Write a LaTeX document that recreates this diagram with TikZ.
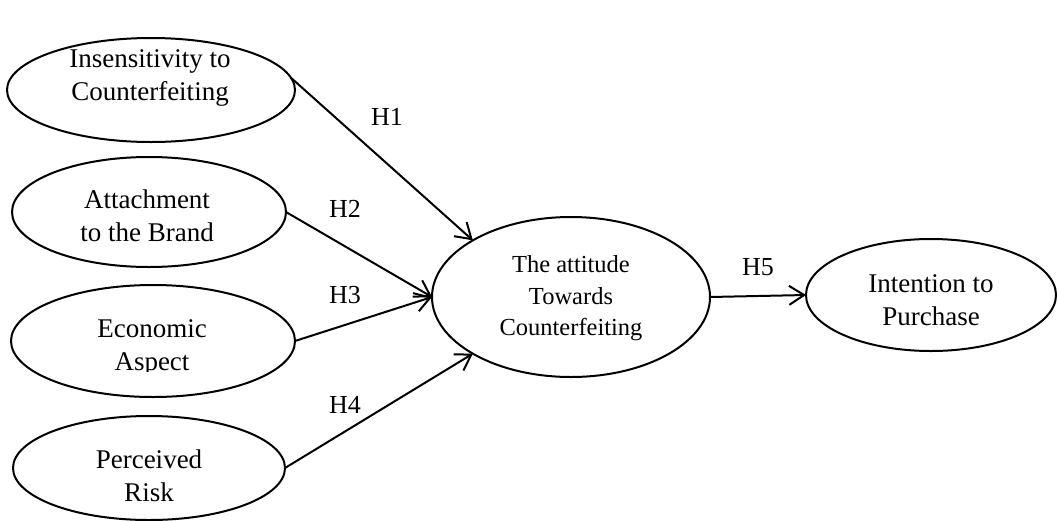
\documentclass[tikz,border=0pt]{standalone}
\usepackage{fontspec}
\setmainfont{Liberation Serif}
\usetikzlibrary{arrows.meta,shapes.geometric}
\begin{document}
\begin{tikzpicture}[x=1pt,y=-1pt,
  oval/.style={draw, ellipse, line width=2pt, inner sep=0pt, outer sep=0pt},
  lbl/.style={align=center, inner sep=0pt, font=\fontsize{27}{33}\selectfont},
  clbl/.style={align=center, inner sep=0pt, font=\fontsize{24.5}{31.5}\selectfont},
  hyp/.style={inner sep=0pt, font=\fontsize{26}{30}\selectfont},
  link/.style={line width=2pt, -{Straight Barb[length=15pt,width=19pt,line width=2pt]}}
]
\useasboundingbox (0,0) rectangle (1058,520);
% ellipses
\node[oval, minimum width=288pt, minimum height=104pt] (e1) at (151,90) {};
\node[oval, minimum width=274pt, minimum height=110pt] (e2) at (149,212) {};
\node[oval, minimum width=284pt, minimum height=112pt] (e3) at (153,341) {};
\node[oval, minimum width=272pt, minimum height=104pt] (e4) at (149,468) {};
\node[oval, minimum width=278pt, minimum height=160pt] (c) at (571,297) {};
\node[oval, minimum width=250pt, minimum height=112pt] (r) at (931,295) {};
% texts
\node[lbl] (t1) at (150,77) {\strut Insensitivity to\\\strut Counterfeiting};
\node[lbl] (t2) at (147,218) {\strut Attachment\\\strut to the Brand};
\begin{scope}
\clip (0,300) rectangle (300,371);
\node[lbl] (t3) at (152,347) {\strut Economic\\\strut Aspect};
\end{scope}
\begin{scope}
\clip (0,430) rectangle (300,502);
\node[lbl] (t4) at (149,478) {\strut Perceived\\\strut Risk};
\end{scope}
\node[clbl] (tc) at (571,298) {\strut The attitude\\\strut Towards\\\strut Counterfeiting};
\node[lbl] (tr) at (931,302) {\strut Intention to\\\strut Purchase};
% connectors
\draw[link] (e1.5) -- (c.150);
\draw[link] (e2.east) -- (c.west);
\draw[link] (e3.east) -- (c.west);
\draw[link] (e4.east) -- (c.210);
\draw[link] (c.east) -- (r.west);
% hypothesis labels
\node[hyp] (h1) at (387,117) {H1};
\node[hyp] (h2) at (345,209) {H2};
\node[hyp] (h3) at (345,295) {H3};
\node[hyp] (h4) at (345,405) {H4};
\node[hyp] (h5) at (758,267) {H5};
\end{tikzpicture}
\end{document}
